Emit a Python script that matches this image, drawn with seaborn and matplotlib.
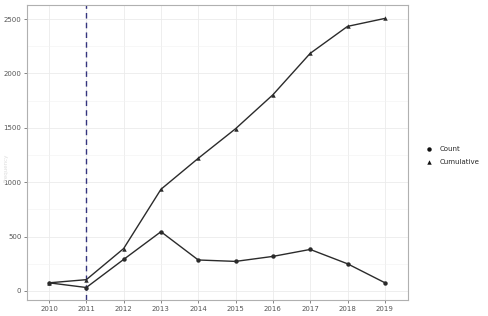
import numpy as np
import pandas as pd
import matplotlib
matplotlib.use("Agg")
import matplotlib.pyplot as plt
import seaborn as sns
from matplotlib.ticker import MultipleLocator
from matplotlib.lines import Line2D

# values
years = [2010, 2011, 2012, 2013, 2014, 2015, 2016, 2017, 2018, 2019]
count = [75, 32, 290, 545, 285, 272, 318, 382, 250, 76]
cumulative = [75, 104, 390, 935, 1220, 1492, 1804, 2185, 2433, 2506]
series_names = ["Count", "Cumulative"]
marker_map = {"Count": "o", "Cumulative": "^"}
event_year = 2011

df = pd.DataFrame({
    "year": years * 2,
    "value": count + cumulative,
    "series": [series_names[0]] * len(years) + [series_names[1]] * len(years),
})

sns.set_theme(style="white")
plt.rcParams["font.family"] = ["DejaVu Sans"]

fig = plt.figure(figsize=(4.88, 3.16), dpi=100)
ax = fig.add_axes([0.0553, 0.0506, 0.7807, 0.9334])

ax.set_xlim(2009.41, 2019.62)
ax.set_ylim(-83, 2629)
ax.set_xticks(years)
ax.yaxis.set_major_locator(MultipleLocator(500))
ax.yaxis.set_minor_locator(MultipleLocator(250))
ax.grid(True, which="major", color="#ebebeb", linewidth=0.6)
ax.grid(True, which="minor", axis="y", color="#f2f2f2", linewidth=0.4)
ax.set_axisbelow(True)

ax.axvline(event_year, color="#34347e", linestyle=(0, (4, 3)), linewidth=1.0, zorder=1)

sns.lineplot(data=df, x="year", y="value", style="series", markers=marker_map,
             dashes=False, color="#2b2b2b", linewidth=1.0, markersize=3.2,
             markeredgewidth=0, ax=ax, zorder=3, legend=False)

for side in ax.spines.values():
    side.set_color("#b0b0b0")
    side.set_linewidth(0.8)

ax.tick_params(axis="both", which="major", labelsize=5, colors="#555555",
               length=2, width=0.5, pad=2, bottom=True, left=True)
ax.tick_params(axis="both", which="minor", length=0)
ax.set_xticklabels([str(y) for y in years])
ax.set_xlabel("")
ax.set_ylabel("")
fig.text(0.008, 0.47, "Frequency", rotation=90, fontsize=4, color="#dddddd",
         va="center", ha="left")

# legend shows points only, like the reference
handles = [Line2D([], [], linestyle="none", marker=marker_map[s], color="#111111",
                  markersize=3.2, markeredgewidth=0) for s in series_names]
ax.legend(handles, series_names, loc="center left", bbox_to_anchor=(1.03, 0.49),
          frameon=False, fontsize=5, handlelength=1.0, handletextpad=1.0,
          labelspacing=1.0)

fig.savefig("out.png", dpi=100)
